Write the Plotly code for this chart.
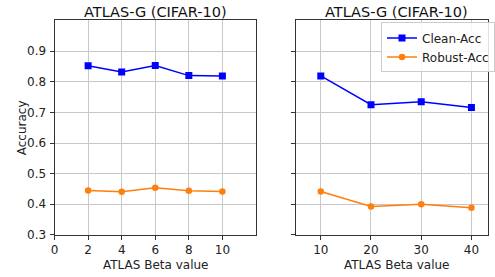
import plotly.graph_objects as go

# Data
beta_left = [2, 4, 6, 8, 10]
clean_left = [0.852, 0.832, 0.853, 0.820, 0.819]
robust_left = [0.445, 0.441, 0.454, 0.444, 0.442]

beta_right = [10, 20, 30, 40]
clean_right = [0.819, 0.725, 0.735, 0.716]
robust_right = [0.442, 0.393, 0.400, 0.389]

title_text = "ATLAS-G (CIFAR-10)"
xlabel = "ATLAS Beta value"
ylabel = "Accuracy"

BLUE = "#0000ff"
ORANGE = "#ff7f0e"
FONT = "DejaVu Sans"
W, H = 495, 277

fig = go.Figure()
fig.add_trace(go.Scatter(x=beta_left, y=clean_left, mode="lines+markers", name="Clean-Acc",
                         line=dict(color=BLUE, width=1.5), marker=dict(symbol="square", size=7, color=BLUE),
                         xaxis="x", yaxis="y", showlegend=False))
fig.add_trace(go.Scatter(x=beta_left, y=robust_left, mode="lines+markers", name="Robust-Acc",
                         line=dict(color=ORANGE, width=1.5), marker=dict(symbol="circle", size=6.5, color=ORANGE),
                         xaxis="x", yaxis="y", showlegend=False))
fig.add_trace(go.Scatter(x=beta_right, y=clean_right, mode="lines+markers", name="Clean-Acc",
                         line=dict(color=BLUE, width=1.5), marker=dict(symbol="square", size=7, color=BLUE),
                         xaxis="x2", yaxis="y2"))
fig.add_trace(go.Scatter(x=beta_right, y=robust_right, mode="lines+markers", name="Robust-Acc",
                         line=dict(color=ORANGE, width=1.5), marker=dict(symbol="circle", size=6.5, color=ORANGE),
                         xaxis="x2", yaxis="y2"))

ydom = [(H - 241) / H, (H - 21) / H]
axis_common = dict(showline=True, linecolor="#333333", linewidth=1, mirror=True,
                   ticks="outside", ticklen=4, tickcolor="#333333",
                   showgrid=True, gridcolor="#c8c8c8", gridwidth=1, zeroline=False,
                   tickfont=dict(family=FONT, size=12, color="#222222"))

fig.update_layout(
    width=W, height=H,
    margin=dict(l=0, r=0, t=0, b=0),
    paper_bgcolor="white", plot_bgcolor="white",
    font=dict(family=FONT, size=12, color="#222222"),
    xaxis=dict(domain=[51.7 / W, 257.7 / W], range=[0, 12], tickvals=[0, 2, 4, 6, 8, 10],
               anchor="y", ticklabelstandoff=0, **axis_common),
    yaxis=dict(domain=ydom, range=[0.3, 1.0], tickvals=[0.3, 0.4, 0.5, 0.6, 0.7, 0.8, 0.9],
               tickformat=".1f", anchor="x", ticklabelstandoff=1, **axis_common),
    xaxis2=dict(domain=[298.3 / W, 1.0], range=[5, 43.3], tickvals=[10, 20, 30, 40],
                anchor="y2", ticklabelstandoff=0, **axis_common),
    yaxis2=dict(domain=ydom, range=[0.3, 1.0], tickvals=[0.3, 0.4, 0.5, 0.6, 0.7, 0.8, 0.9],
                showticklabels=False, anchor="x2", **axis_common),
    legend=dict(x=386 / W, y=(H - 23) / H, xanchor="left", yanchor="top",
                bgcolor="rgba(255,255,255,0.85)", bordercolor="#cccccc", borderwidth=1,
                font=dict(family=FONT, size=12, color="#222222"), tracegroupgap=0),
)

def ann(text, xpx, ypx, size, angle=0, color="#222222"):
    return dict(text=text, x=xpx / W, y=(H - ypx) / H, xref="paper", yref="paper",
                xanchor="center", yanchor="middle", textangle=angle, showarrow=False,
                borderpad=0, font=dict(family=FONT, size=size, color=color))

annotations = [
    ann(title_text, (51.7 + 257.7) / 2, 12.5, 14.5, color="#111111"),
    ann(title_text, (298.3 + 504.3) / 2, 12.5, 14.5, color="#111111"),
    ann(xlabel, (51.7 + 257.7) / 2, 271.5, 12),
    ann(xlabel, (298.3 + 504.3) / 2, 271.5, 12),
    ann(ylabel, 18, 131, 12, angle=-90),
]
fig.update_layout(annotations=annotations)

fig.write_html("out.html", config={"displayModeBar": False},
               post_script="document.body.style.margin='0px';document.body.style.overflow='hidden';")
